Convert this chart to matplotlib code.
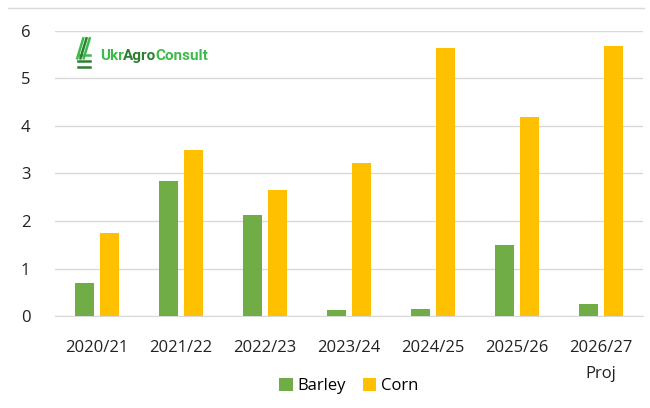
import numpy as np
import matplotlib.pyplot as plt
from matplotlib.lines import Line2D

seasons = ["2020/21", "2021/22", "2022/23", "2023/24", "2024/25", "2025/26", "2026/27\nProj"]
barley = [0.70, 2.85, 2.13, 0.12, 0.15, 1.49, 0.25]
corn = [1.74, 3.50, 2.65, 3.22, 5.64, 4.19, 5.68]

plt.rcParams['font.family'] = ['Open Sans', 'DejaVu Sans']

fig = plt.figure(figsize=(6.5, 4.08), dpi=100)
ax = fig.add_axes([0.085, 0.225, 0.904, 0.70])

x = np.arange(len(seasons))
w = 0.23
gap = 0.035
ax.bar(x - w / 2 - gap, barley, w, color="#70AD47", label="Barley", zorder=3)
ax.bar(x + w / 2 + gap, corn, w, color="#FFC000", label="Corn", zorder=3)

ax.set_xlim(-0.5, len(seasons) - 0.5)
ax.set_ylim(0, 6)
ax.set_yticks(range(7))
ax.set_xticks(x)
ax.set_xticklabels(seasons, fontsize=12, color="#222222", linespacing=1.85)
ax.tick_params(axis="y", labelsize=12, colors="#222222", length=0, pad=18)
ax.tick_params(axis="x", length=0, pad=17)
ax.yaxis.grid(True, color="#D9D9D9", linewidth=1, zorder=0)
for s in ["top", "right", "left"]:
    ax.spines[s].set_visible(False)
ax.spines["bottom"].set_color("#D9D9D9")

ax.legend(loc="upper center", bbox_to_anchor=(0.5, -0.165), ncol=2, frameon=False,
          fontsize=12, handlelength=0.8, handleheight=0.8, handletextpad=0.3,
          columnspacing=1.0)

# logo: text pieces placed one after another
renderer = fig.canvas.get_renderer()
inv = ax.transAxes.inverted()
xpos = 0.0766
for part, col in [("Ukr", "#3DBB4A"), ("Agro", "#2E7D32"), ("Consult", "#3DBB4A")]:
    t = ax.text(xpos, 0.912, part, transform=ax.transAxes, fontsize=11,
                fontweight="bold", color=col, va="center", family="Roboto")
    bb = t.get_window_extent(renderer)
    xpos = inv.transform((bb.x1, bb.y0))[0] - 0.002
greens = ["#3DBB4A", "#2E7D32", "#3DBB4A"]
for i in range(3):
    ax.add_line(Line2D([0.0374 + i * 0.0055, 0.0477 + i * 0.0055], [0.903, 0.973],
                       transform=ax.transAxes, color=greens[i], lw=1.8))
    ax.add_line(Line2D([0.039, 0.0596], [0.914 - i * 0.021, 0.914 - i * 0.021],
                       transform=ax.transAxes, color=["#3DBB4A", "#2E7D32", "#2E7D32"][i], lw=1.8))

# top rule
fig.add_artist(Line2D([0.012, 0.99], [0.98, 0.98], transform=fig.transFigure,
                      color="#D9D9D9", lw=1))

fig.savefig("out.png", dpi=100)
